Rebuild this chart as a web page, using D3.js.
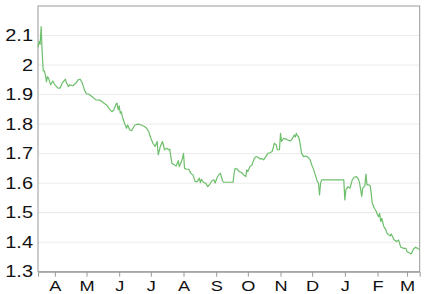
<!DOCTYPE html>
<html>
<head>
<meta charset="utf-8">
<script src="https://cdn.jsdelivr.net/npm/d3@7"></script>
<style>
  body { margin: 0; background: #fff; }
  svg { display: block; }
  .axis text { font-family: "Liberation Sans", Arial, sans-serif; fill: #111; }
</style>
</head>
<body>
<svg id="chart"></svg>
<script>
let width = 433,
    height = 294,
    margin = { top: 6, right: 13.3, bottom: 22.3, left: 38 };

// dates of each reading
let dates = [
  "2014-03-16","2014-03-17","2014-03-18","2014-03-19","2014-03-20","2014-03-21","2014-03-22","2014-03-23",
  "2014-03-24","2014-03-25","2014-03-26","2014-03-28","2014-03-30","2014-04-01","2014-04-04","2014-04-06",
  "2014-04-08","2014-04-11","2014-04-12","2014-04-14","2014-04-15","2014-04-18","2014-04-21","2014-04-23",
  "2014-04-25","2014-04-27","2014-04-29","2014-05-01","2014-05-03","2014-05-07","2014-05-10","2014-05-14",
  "2014-05-17","2014-05-20","2014-05-23","2014-05-25","2014-05-27","2014-05-29","2014-05-30","2014-05-31",
  "2014-06-01","2014-06-02","2014-06-03","2014-06-04","2014-06-06","2014-06-08","2014-06-09","2014-06-11",
  "2014-06-13","2014-06-14","2014-06-16","2014-06-19","2014-06-22","2014-06-25","2014-06-27","2014-06-29",
  "2014-07-01","2014-07-03","2014-07-05","2014-07-07","2014-07-08","2014-07-10","2014-07-12","2014-07-14",
  "2014-07-16","2014-07-18","2014-07-19","2014-07-20","2014-07-21","2014-07-23","2014-07-25","2014-07-27",
  "2014-07-28","2014-07-30","2014-07-31","2014-08-01","2014-08-02","2014-08-04","2014-08-06","2014-08-08",
  "2014-08-10","2014-08-12","2014-08-14","2014-08-16","2014-08-17","2014-08-18","2014-08-20","2014-08-22",
  "2014-08-24","2014-08-26","2014-08-28","2014-08-30","2014-08-31","2014-09-02","2014-09-04","2014-09-05",
  "2014-09-07","2014-09-08","2014-09-17","2014-09-18","2014-09-19","2014-09-21","2014-09-23","2014-09-25",
  "2014-09-27","2014-09-29","2014-09-30","2014-10-01","2014-10-03","2014-10-05","2014-10-07","2014-10-09",
  "2014-10-11","2014-10-13","2014-10-14","2014-10-16","2014-10-18","2014-10-20","2014-10-22","2014-10-24",
  "2014-10-25","2014-10-26","2014-10-28","2014-10-29","2014-10-31","2014-11-01","2014-11-02","2014-11-04",
  "2014-11-06","2014-11-08","2014-11-10","2014-11-12","2014-11-14","2014-11-15","2014-11-16","2014-11-17",
  "2014-11-18","2014-11-19","2014-11-21","2014-11-23","2014-11-25","2014-11-27","2014-11-29","2014-12-01",
  "2014-12-02","2014-12-04","2014-12-06","2014-12-07","2014-12-08","2014-12-09","2014-12-10","2014-12-31",
  "2015-01-01","2015-01-02","2015-01-04","2015-01-06","2015-01-08","2015-01-10","2015-01-12","2015-01-14",
  "2015-01-15","2015-01-17","2015-01-18","2015-01-20","2015-01-21","2015-01-22","2015-01-24","2015-01-25",
  "2015-01-26","2015-01-27","2015-01-29","2015-01-31","2015-02-01","2015-02-02","2015-02-03","2015-02-04",
  "2015-02-05","2015-02-07","2015-02-09","2015-02-10","2015-02-12","2015-02-13","2015-02-14","2015-02-16",
  "2015-02-17","2015-02-19","2015-02-21","2015-02-23","2015-02-26","2015-02-28","2015-03-01","2015-03-03",
  "2015-03-05","2015-03-07","2015-03-09","2015-03-11","2015-03-13"
];

let values = [
  2.06, 2.08, 2.07, 2.13, 2.04, 1.98, 1.98, 1.967,
  1.944, 1.961, 1.955, 1.933, 1.946, 1.933, 1.922, 1.922,
  1.939, 1.952, 1.939, 1.927, 1.933, 1.93, 1.939, 1.95,
  1.952, 1.939, 1.916, 1.902, 1.902, 1.891, 1.882, 1.881,
  1.872, 1.865, 1.85, 1.842, 1.848, 1.868, 1.871, 1.848,
  1.862, 1.837, 1.842, 1.825, 1.803, 1.786, 1.797, 1.78,
  1.778, 1.786, 1.797, 1.8, 1.797, 1.792, 1.786, 1.775,
  1.752, 1.735, 1.724, 1.741, 1.696, 1.724, 1.741, 1.713,
  1.718, 1.713, 1.715, 1.69, 1.667, 1.662, 1.658, 1.676,
  1.656, 1.673, 1.684, 1.701, 1.65, 1.647, 1.647, 1.633,
  1.628, 1.605, 1.605, 1.617, 1.602, 1.613, 1.602, 1.6,
  1.588, 1.597, 1.608, 1.611, 1.6, 1.62, 1.631, 1.633,
  1.608, 1.603, 1.603, 1.633, 1.65, 1.647, 1.639, 1.636,
  1.628, 1.622, 1.645, 1.639, 1.656, 1.662, 1.684, 1.69,
  1.687, 1.681, 1.684, 1.679, 1.69, 1.701, 1.703, 1.707,
  1.718, 1.735, 1.729, 1.713, 1.713, 1.769, 1.741, 1.752,
  1.749, 1.746, 1.743, 1.749, 1.763, 1.756, 1.769, 1.76,
  1.758, 1.746, 1.701, 1.69, 1.692, 1.688, 1.679, 1.658,
  1.65, 1.628, 1.605, 1.6, 1.56, 1.6, 1.611, 1.611,
  1.543, 1.577, 1.588, 1.583, 1.611, 1.62, 1.622, 1.613,
  1.6, 1.555, 1.583, 1.591, 1.631, 1.594, 1.594, 1.591,
  1.566, 1.532, 1.515, 1.503, 1.492, 1.486, 1.498, 1.47,
  1.481, 1.453, 1.441, 1.43, 1.424, 1.421, 1.428, 1.413,
  1.407, 1.402, 1.407, 1.383, 1.379, 1.379, 1.368, 1.364,
  1.36, 1.376, 1.383, 1.379, 1.374
];

let yTicks = [1.3, 1.4, 1.5, 1.6, 1.7, 1.8, 1.9, 2, 2.1];

let parse = d3.timeParse("%Y-%m-%d");
let data = dates.map((d, i) => ({ date: parse(d), value: values[i] }));

let svg = d3.select("#chart")
    .attr("width", width)
    .attr("height", height);

var x = d3.scaleTime()
    .domain(d3.extent(data, d => d.date))
    .range([margin.left, width - margin.right]);

var y = d3.scaleLinear()
    .domain([1.3, 2.2])
    .range([height - margin.bottom, margin.top]);

// horizontal grid
svg.append("g")
    .selectAll("line")
    .data(yTicks.slice(1))
    .enter().append("line")
    .attr("x1", margin.left)
    .attr("x2", width - margin.right)
    .attr("y1", d => y(d))
    .attr("y2", d => y(d))
    .attr("stroke", "#ebebeb")
    .attr("stroke-width", 1);

// frame
svg.append("rect")
    .attr("x", margin.left)
    .attr("y", margin.top)
    .attr("width", width - margin.left - margin.right)
    .attr("height", height - margin.top - margin.bottom)
    .attr("fill", "none")
    .attr("stroke", "#999");

svg.append("path")
    .datum(data)
    .attr("fill", "none")
    .attr("stroke", "#6dbf6b")
    .attr("stroke-width", 1.2)
    .attr("stroke-linejoin", "round")
    .attr("d", d3.line().x(d => x(d.date)).y(d => y(d.value)));

// x axis
let xAxis = svg.append("g")
    .attr("class", "axis")
    .attr("transform", "translate(0," + (height - margin.bottom) + ")")
    .call(d3.axisBottom(x)
        .ticks(d3.timeMonth.every(1))
        .tickSize(5)
        .tickPadding(4)
        .tickFormat(d => d3.timeFormat("%B")(d)[0]));
xAxis.select(".domain").attr("stroke", "#999");
xAxis.selectAll(".tick line").attr("stroke", "#999");
xAxis.selectAll("text")
    .style("font-size", "14px")
    .attr("transform", "scale(1.3,1)")
    .attr("x", 0);

// y axis
let yAxis = svg.append("g")
    .attr("class", "axis")
    .attr("transform", "translate(" + margin.left + ",0)")
    .call(d3.axisLeft(y)
        .tickValues(yTicks)
        .tickSize(0)
        .tickPadding(0)
        .tickFormat(d3.format("")));
yAxis.select(".domain").remove();
yAxis.selectAll("text")
    .style("font-size", "16px")
    .attr("x", -4)
    .attr("transform", "scale(1.25,1)");
</script>
</body>
</html>
